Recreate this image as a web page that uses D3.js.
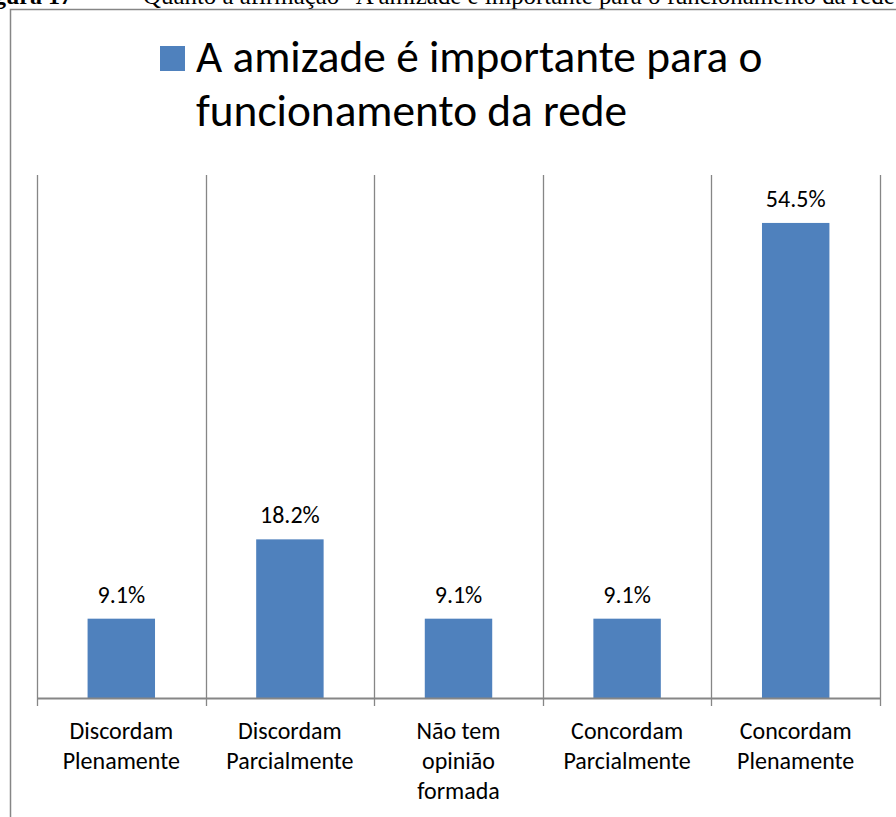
<!DOCTYPE html>
<html>
<head>
<meta charset="utf-8">
<script src="https://cdn.jsdelivr.net/npm/d3@7"></script>
<style>
  body { margin: 0; background: #fff; }
  svg { display: block; }
  text { font-family: Carlito, "Open Sans", "Noto Sans", sans-serif; fill: #000; }
</style>
</head>
<body>
<svg width="896" height="817"></svg>
<script>
var categories = [
  ["Discordam", "Plenamente"],
  ["Discordam", "Parcialmente"],
  ["Não tem", "opinião", "formada"],
  ["Concordam", "Parcialmente"],
  ["Concordam", "Plenamente"]
];
var values = [9.1, 18.2, 9.1, 9.1, 54.5];
var seriesName = ["A amizade é importante para o", "funcionamento da rede"];
var figLabel = "Figura 17";
var caption = "Quanto à afirmação \"A amizade é importante para o funcionamento da rede\"";

var svg = d3.select("svg"),
    blue = "#4f81bd",
    grey = "#868686";

// figure caption, cut off by the top of the page
var serif = "'Liberation Serif', 'Times New Roman', serif";
svg.append("text")
    .attr("x", 72).attr("y", 4)
    .attr("text-anchor", "end")
    .style("font-family", serif)
    .style("font-weight", "bold")
    .style("font-size", "24px")
    .text(figLabel);
svg.append("text")
    .attr("x", 100).attr("y", 4)
    .style("font-family", serif)
    .style("font-size", "24px")
    .text("–");
svg.append("text")
    .attr("x", 143).attr("y", 4)
    .style("font-family", serif)
    .style("font-size", "24.9px")
    .text(caption);

// chart frame
svg.append("path")
    .attr("d", "M10.5,817 V9.5 H896")
    .attr("fill", "none")
    .attr("stroke", grey)
    .attr("stroke-width", 1.5);

var x = d3.scaleBand()
    .domain(d3.range(categories.length))
    .range([37, 880])
    .paddingInner(0)
    .paddingOuter(0);

var y = d3.scaleLinear()
    .domain([0, 60])
    .range([698, 175]);

// vertical gridlines at category boundaries
var bounds = d3.range(categories.length + 1).map(function(i) {
    return i < categories.length ? x(i) : x(i - 1) + x.bandwidth();
});
svg.append("g").selectAll("line")
    .data(bounds)
    .enter().append("line")
    .attr("x1", function(d) { return Math.round(d) + 0.5; })
    .attr("x2", function(d) { return Math.round(d) + 0.5; })
    .attr("y1", y(60))
    .attr("y2", y(0) + 8)
    .attr("stroke", grey)
    .attr("stroke-width", 1.3);

// bars
var barW = x.bandwidth() * 0.4;
svg.append("g").selectAll("rect")
    .data(values)
    .enter().append("rect")
    .attr("x", function(d, i) { return x(i) + (x.bandwidth() - barW) / 2; })
    .attr("y", function(d) { return y(d); })
    .attr("width", barW)
    .attr("height", function(d) { return y(0) - y(d); })
    .attr("fill", blue);

// x axis line
svg.append("line")
    .attr("x1", bounds[0]).attr("x2", bounds[bounds.length - 1])
    .attr("y1", y(0) + 0.5).attr("y2", y(0) + 0.5)
    .attr("stroke", grey)
    .attr("stroke-width", 2);

// data labels
svg.append("g").selectAll("text")
    .data(values)
    .enter().append("text")
    .attr("x", function(d, i) { return x(i) + x.bandwidth() / 2; })
    .attr("y", function(d) { return y(d) - 16; })
    .attr("text-anchor", "middle")
    .style("font-size", "24px")
    .text(function(d) { return d.toFixed(1) + "%"; });

// category labels
var cat = svg.append("g").selectAll("text")
    .data(categories)
    .enter().append("text")
    .attr("text-anchor", "middle")
    .style("font-size", "24px");
cat.selectAll("tspan")
    .data(function(d, i) { return d.map(function(s) { return { s: s, i: i }; }); })
    .enter().append("tspan")
    .attr("x", function(d) { return x(d.i) + x.bandwidth() / 2; })
    .attr("y", function(d, j) { return 739 + j * 30; })
    .text(function(d) { return d.s; });

// legend
svg.append("rect")
    .attr("x", 160).attr("y", 46)
    .attr("width", 25).attr("height", 25)
    .attr("fill", blue);
svg.append("g").selectAll("text")
    .data(seriesName)
    .enter().append("text")
    .attr("x", 196)
    .attr("y", function(d, i) { return 72 + i * 54; })
    .style("font-size", "45.3px")
    .text(function(d) { return d; });
</script>
</body>
</html>
